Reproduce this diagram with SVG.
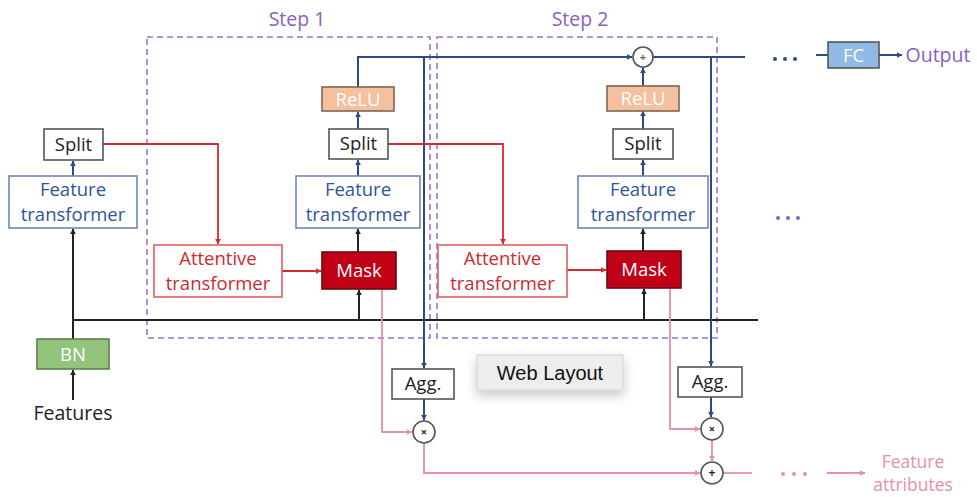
<svg xmlns="http://www.w3.org/2000/svg" width="977" height="497" viewBox="0 0 977 497">
  <style>
    text { font-family: "Open Sans", "Liberation Sans", sans-serif; text-anchor: middle; }
    .lbl { font-size: 18.5px; }
    .big { font-size: 19.5px; }
    .small { font-size: 17.5px; }
    .plain { fill: #ffffff; stroke: #555555; stroke-width: 1.6; }
    .ft { fill: #ffffff; stroke: #6f88b8; stroke-width: 1.6; }
    .ft-t { fill: #2f5597; }
    .attn { fill: #ffffff; stroke: #e06060; stroke-width: 1.6; }
    .attn-t { fill: #cc2a30; }
    .mask { fill: #c00016; stroke: #6a0a12; stroke-width: 1.6; }
    .relu { fill: #f4c09e; stroke: #7d6656; stroke-width: 1.6; }
    .bn { fill: #92c47c; stroke: #5f7f52; stroke-width: 1.6; }
    .fc { fill: #8fbae4; stroke: #555555; stroke-width: 1.6; }
    .white { fill: #ffffff; }
    .dark { fill: #222222; }
    .purple { fill: #8a60c0; }
    .pinkt { fill: #e590ac; }
    .op { fill: #ffffff; stroke: #555555; stroke-width: 1.6; }
    .step { fill: none; stroke: #9c74cc; stroke-width: 1.6; stroke-dasharray: 6 4; }
    .navy { fill: none; stroke: #2e4a86; stroke-width: 2; }
    .blk { fill: none; stroke: #222222; stroke-width: 2; }
    .red { fill: none; stroke: #d42a30; stroke-width: 1.8; }
    .pink { fill: none; stroke: #e690aa; stroke-width: 1.8; }
  </style>
  <defs>
    <marker id="aNavy" viewBox="0 0 10 10" refX="9" refY="5" markerWidth="6" markerHeight="6" markerUnits="userSpaceOnUse" orient="auto"><path d="M0 0 L10 5 L0 10 z" fill="#2e4a86"/></marker>
    <marker id="aBlk" viewBox="0 0 10 10" refX="9" refY="5" markerWidth="6" markerHeight="6" markerUnits="userSpaceOnUse" orient="auto"><path d="M0 0 L10 5 L0 10 z" fill="#222222"/></marker>
    <marker id="aRed" viewBox="0 0 10 10" refX="9" refY="5" markerWidth="6" markerHeight="6" markerUnits="userSpaceOnUse" orient="auto"><path d="M0 0 L10 5 L0 10 z" fill="#d42a30"/></marker>
    <marker id="aPink" viewBox="0 0 10 10" refX="9" refY="5" markerWidth="6" markerHeight="6" markerUnits="userSpaceOnUse" orient="auto"><path d="M0 0 L10 5 L0 10 z" fill="#e690aa"/></marker>
    <filter id="shadow" x="-20%" y="-30%" width="140%" height="190%">
      <feDropShadow dx="0" dy="5" stdDeviation="6" flood-color="#000000" flood-opacity="0.22"/>
    </filter>
  </defs>

  <rect width="977" height="497" fill="#ffffff"/>

  <!-- step frames -->
  <g id="step1">
    <rect class="step" x="147" y="37" width="283" height="301"/>
    <text class="big purple" x="297" y="26">Step 1</text>
  </g>
  <g id="step2">
    <rect class="step" x="437" y="37" width="280" height="301"/>
    <text class="big purple" x="580" y="26">Step 2</text>
  </g>

  <!-- connectors -->
  <g id="connectors">
    <!-- black feature paths -->
    <line class="blk" x1="73" y1="400" x2="73" y2="370" marker-end="url(#aBlk)"/>
    <line class="blk" x1="73" y1="339" x2="73" y2="229" marker-end="url(#aBlk)"/>
    <line class="blk" x1="73" y1="320" x2="758" y2="320"/>
    <line class="blk" x1="359" y1="320" x2="359" y2="290" marker-end="url(#aBlk)"/>
    <line class="blk" x1="358" y1="252" x2="358" y2="229" marker-end="url(#aBlk)"/>
    <line class="blk" x1="644" y1="320" x2="644" y2="289" marker-end="url(#aBlk)"/>
    <line class="blk" x1="643" y1="251" x2="643" y2="229" marker-end="url(#aBlk)"/>
    <!-- navy decision paths -->
    <line class="navy" x1="73" y1="176" x2="73" y2="161" marker-end="url(#aNavy)"/>
    <line class="navy" x1="358" y1="176" x2="358" y2="160" marker-end="url(#aNavy)"/>
    <line class="navy" x1="358" y1="129" x2="358" y2="112" marker-end="url(#aNavy)"/>
    <path class="navy" d="M358 87 V57 H632" marker-end="url(#aNavy)"/>
    <line class="navy" x1="424" y1="57" x2="424" y2="368" marker-end="url(#aNavy)"/>
    <line class="navy" x1="424" y1="399" x2="424" y2="420" marker-end="url(#aNavy)"/>
    <line class="navy" x1="643" y1="176" x2="643" y2="160" marker-end="url(#aNavy)"/>
    <line class="navy" x1="643" y1="129" x2="643" y2="111" marker-end="url(#aNavy)"/>
    <line class="navy" x1="643" y1="86" x2="643" y2="68" marker-end="url(#aNavy)"/>
    <line class="navy" x1="653" y1="57" x2="745" y2="57"/>
    <line class="navy" x1="711" y1="57" x2="711" y2="366" marker-end="url(#aNavy)"/>
    <line class="navy" x1="711" y1="397" x2="711" y2="417" marker-end="url(#aNavy)"/>
    <line class="navy" x1="816" y1="55" x2="828" y2="55"/>
    <line class="navy" x1="879" y1="55" x2="902" y2="55" marker-end="url(#aNavy)"/>
    <!-- red attention paths -->
    <path class="red" d="M103 144 H218 V244" marker-end="url(#aRed)"/>
    <line class="red" x1="282" y1="271" x2="321" y2="271" marker-end="url(#aRed)"/>
    <path class="red" d="M388 144 H503 V244" marker-end="url(#aRed)"/>
    <line class="red" x1="567" y1="270" x2="606" y2="270" marker-end="url(#aRed)"/>
    <!-- pink attribution paths -->
    <path class="pink" d="M382 289 V432 H412" marker-end="url(#aPink)"/>
    <path class="pink" d="M424 443 V473 H700" marker-end="url(#aPink)"/>
    <path class="pink" d="M670 288 V429 H700" marker-end="url(#aPink)"/>
    <line class="pink" x1="712" y1="440" x2="712" y2="461" marker-end="url(#aPink)"/>
    <line class="pink" x1="723" y1="473" x2="752" y2="473"/>
    <line class="pink" x1="827" y1="473" x2="865" y2="473" marker-end="url(#aPink)"/>
  </g>

  <!-- initial stage -->
  <g id="features"><text class="big dark" x="73" y="420">Features</text></g>
  <g id="bn"><rect class="bn" x="37" y="339" width="72" height="30"/><text class="lbl white" x="73" y="361">BN</text></g>
  <g id="ft0"><rect class="ft" x="9" y="176" width="128" height="52"/><text class="lbl ft-t" x="73" y="196">Feature</text><text class="lbl ft-t" x="73" y="221">transformer</text></g>
  <g id="split0"><rect class="plain" x="44" y="129" width="59" height="31"/><text class="lbl dark" x="73.5" y="151">Split</text></g>

  <!-- step 1 -->
  <g id="attn1"><rect class="attn" x="154" y="245" width="128" height="52"/><text class="lbl attn-t" x="218" y="265">Attentive</text><text class="lbl attn-t" x="218" y="290">transformer</text></g>
  <g id="mask1"><rect class="mask" x="322" y="252" width="74" height="37"/><text class="lbl white" x="359" y="277">Mask</text></g>
  <g id="ft1"><rect class="ft" x="296" y="176" width="124" height="52"/><text class="lbl ft-t" x="358" y="196">Feature</text><text class="lbl ft-t" x="358" y="221">transformer</text></g>
  <g id="split1"><rect class="plain" x="329" y="129" width="59" height="30"/><text class="lbl dark" x="358.5" y="150">Split</text></g>
  <g id="relu1"><rect class="relu" x="322" y="87" width="72" height="24"/><text class="lbl white" x="358" y="106">ReLU</text></g>
  <g id="agg1"><rect class="plain" x="392" y="369" width="62" height="30"/><text class="lbl dark" x="423" y="390">Agg.</text></g>
  <g id="mul1"><circle class="op" cx="424" cy="432" r="11"/><text x="424" y="436" style="font-size:11px;font-weight:bold" class="dark">×</text></g>

  <!-- step 2 -->
  <g id="attn2"><rect class="attn" x="438" y="245" width="129" height="52"/><text class="lbl attn-t" x="502.5" y="265">Attentive</text><text class="lbl attn-t" x="502.5" y="290">transformer</text></g>
  <g id="mask2"><rect class="mask" x="607" y="251" width="74" height="37"/><text class="lbl white" x="644" y="276">Mask</text></g>
  <g id="ft2"><rect class="ft" x="578" y="176" width="130" height="52"/><text class="lbl ft-t" x="643" y="196">Feature</text><text class="lbl ft-t" x="643" y="221">transformer</text></g>
  <g id="split2"><rect class="plain" x="613" y="129" width="60" height="30"/><text class="lbl dark" x="643" y="150">Split</text></g>
  <g id="relu2"><rect class="relu" x="607" y="86" width="72" height="25"/><text class="lbl white" x="643" y="105">ReLU</text></g>
  <g id="add_out"><circle class="op" cx="643" cy="57" r="10"/><text x="643" y="61" style="font-size:11px;font-weight:bold" fill="#7a5a50">+</text></g>
  <g id="agg2"><rect class="plain" x="678" y="367" width="64" height="30"/><text class="lbl dark" x="710" y="388">Agg.</text></g>
  <g id="mul2"><circle class="op" cx="712" cy="429" r="11"/><text x="712" y="433" style="font-size:11px;font-weight:bold" class="dark">×</text></g>
  <g id="add_attr"><circle class="op" cx="712" cy="473" r="11"/><text x="712" y="477" style="font-size:12px;font-weight:bold" class="dark">+</text></g>

  <!-- output side -->
  <g id="dots_out" fill="#2e4a86"><circle cx="775" cy="59" r="2"/><circle cx="785" cy="59" r="2"/><circle cx="795" cy="59" r="2"/></g>
  <g id="fc"><rect class="fc" x="828" y="42" width="51" height="26"/><text class="lbl white" x="853.5" y="62">FC</text></g>
  <g id="output"><text class="big purple" x="938" y="62">Output</text></g>
  <g id="dots_mid" fill="#8a60c0"><circle cx="778" cy="218" r="2"/><circle cx="788" cy="218" r="2"/><circle cx="798" cy="218" r="2"/></g>
  <g id="dots_attr" fill="#e690aa"><circle cx="783" cy="474" r="2"/><circle cx="794" cy="474" r="2"/><circle cx="805" cy="474" r="2"/></g>
  <g id="attributes"><text class="small pinkt" x="913" y="468">Feature</text><text class="small pinkt" x="913" y="491">attributes</text></g>

  <!-- hover tooltip -->
  <g id="tooltip">
    <rect x="477" y="355" width="146" height="35" fill="#ededed" stroke="#d2d2d2" stroke-width="1" filter="url(#shadow)"/>
    <text x="550" y="380" style="font-family:'Liberation Sans',sans-serif;font-size:20px" fill="#111111">Web Layout</text>
  </g>
</svg>
